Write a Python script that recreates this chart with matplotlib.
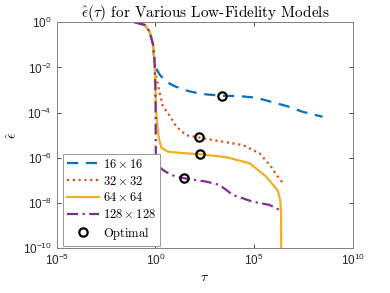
import numpy as np
import matplotlib
matplotlib.use("Agg")
from matplotlib import pyplot as plt

# values (tau, eps_hat)
tau_16 = [0.089, 0.29, 0.51, 0.76, 0.92, 1.12, 1.66, 3.6, 10, 45, 200, 2300,
          1.8e4, 1.26e5, 8.7e5, 5e6, 2.8e7, 2.9e8]
eps_16 = [1.0, 0.76, 0.38, 0.1, 1.3e-2, 8.9e-3, 4.7e-3, 2.3e-3, 1.45e-3, 9.1e-4,
          6.8e-4, 5.6e-4, 5.4e-4, 4.6e-4, 2.9e-4, 1.9e-4, 1.1e-4, 6.6e-5]

tau_32 = [0.089, 0.29, 0.51, 0.76, 0.92, 1.07, 1.66, 2.4, 4.4, 11.5, 37, 155,
          1200, 2.6e4, 1.86e5, 7.2e5, 1.55e6, 3.4e6]
eps_32 = [1.0, 0.76, 0.38, 0.1, 1.3e-2, 4e-3, 7.2e-4, 1.9e-4, 9.3e-5, 2.4e-5,
          1.0e-5, 8.1e-6, 5.8e-6, 3.7e-6, 1.6e-6, 4.1e-7, 1.5e-7, 6.3e-8]

tau_64 = [0.089, 0.29, 0.51, 0.76, 0.92, 1.0, 1.1, 1.33, 1.5, 2.0, 4.4, 40, 174,
          3900, 5.8e4, 4e5, 1.58e6, 2.1e6, 2.3e6, 2.35e6]
eps_64 = [1.0, 0.76, 0.38, 0.1, 1.3e-2, 1e-3, 1e-4, 1.7e-5, 7e-6, 2.8e-6,
          1.86e-6, 1.58e-6, 1.45e-6, 1.07e-6, 5.8e-7, 1.5e-7, 3.5e-8, 1.26e-8,
          3.2e-9, 1e-11]

tau_128 = [0.089, 0.29, 0.51, 0.76, 0.92, 1.0, 1.03, 1.05, 1.2, 2.4, 6.5, 27.5,
           380, 1780, 8300, 8.5e4, 5.9e5, 1.9e6]
eps_128 = [1.0, 0.76, 0.38, 0.1, 1.3e-2, 1e-3, 1e-5, 8e-7, 5e-7, 2.9e-7, 1.74e-7,
           1.26e-7, 8.9e-8, 6.3e-8, 2.3e-8, 1.15e-8, 8.3e-9, 5e-9]

# optimal points
opt_tau = [2300, 155, 174, 27.5]
opt_eps = [5.6e-4, 8.1e-6, 1.45e-6, 1.26e-7]

labels = [r"$16\times16$", r"$32\times32$", r"$64\times64$", r"$128\times128$",
          r"$\mathrm{Optimal}$"]
x_ticks = [1e-5, 1e0, 1e5, 1e10]
x_tick_labels = [r"$\mathregular{10^{-5}}$", r"$\mathregular{10^{0}}$",
                 r"$\mathregular{10^{5}}$", r"$\mathregular{10^{10}}$"]
y_ticks = [1e-10, 1e-8, 1e-6, 1e-4, 1e-2, 1e0]
y_tick_labels = [r"$\mathregular{10^{-10}}$", r"$\mathregular{10^{-8}}$",
                 r"$\mathregular{10^{-6}}$", r"$\mathregular{10^{-4}}$",
                 r"$\mathregular{10^{-2}}$", r"$\mathregular{10^{0}}$"]

plt.rcParams["mathtext.fontset"] = "cm"
plt.rcParams["font.family"] = ["Liberation Sans", "DejaVu Sans"]

fig = plt.figure(figsize=(3.9, 2.93), dpi=100)
ax = fig.add_axes([0.1454, 0.1526, 0.7596, 0.7714])

lw = 1.6
ax.loglog(tau_16, eps_16, color="#0072BD", lw=lw, dashes=(5, 3.5), label=labels[0])
ax.loglog(tau_32, eps_32, color="#D95319", lw=lw, dashes=(1, 1.6), label=labels[1])
ax.loglog(tau_64, eps_64, color="#EDB120", lw=lw, ls="-", label=labels[2])
ax.loglog(tau_128, eps_128, color="#7E2F8E", lw=lw, dashes=(5, 2, 1, 2), label=labels[3])
ax.loglog(opt_tau, opt_eps, ls="none", marker="o", ms=6, mfc="none", mec="black",
          mew=1.6, label=labels[4])

ax.set_xlim(1e-5, 1e10)
ax.set_ylim(1e-10, 1e0)
ax.set_xticks(x_ticks)
ax.set_xticklabels(x_tick_labels)
ax.set_yticks(y_ticks)
ax.set_yticklabels(y_tick_labels)
ax.minorticks_off()
ax.tick_params(direction="in", top=True, right=True, length=3, width=0.6,
               labelsize=8.5, colors="#262626")
for sp in ax.spines.values():
    sp.set_color("#808080")
    sp.set_linewidth(0.7)

ax.set_title(r"$\hat{\epsilon}(\tau)$ for Various Low-Fidelity Models",
             family="cmr10", fontsize=11, pad=4)
ax.set_xlabel(r"$\tau$", fontsize=10, labelpad=1)
ax.set_ylabel(r"$\hat{\epsilon}$", fontsize=10, labelpad=2)

leg = ax.legend(loc="upper left", bbox_to_anchor=(0.021, 0.417), borderaxespad=0,
                fontsize=9, fancybox=False, framealpha=1, edgecolor="#999999",
                handlelength=2.6, handletextpad=0.3, labelspacing=0.3,
                borderpad=0.3)
leg.get_frame().set_linewidth(0.7)

fig.savefig("out.png", dpi=100)
